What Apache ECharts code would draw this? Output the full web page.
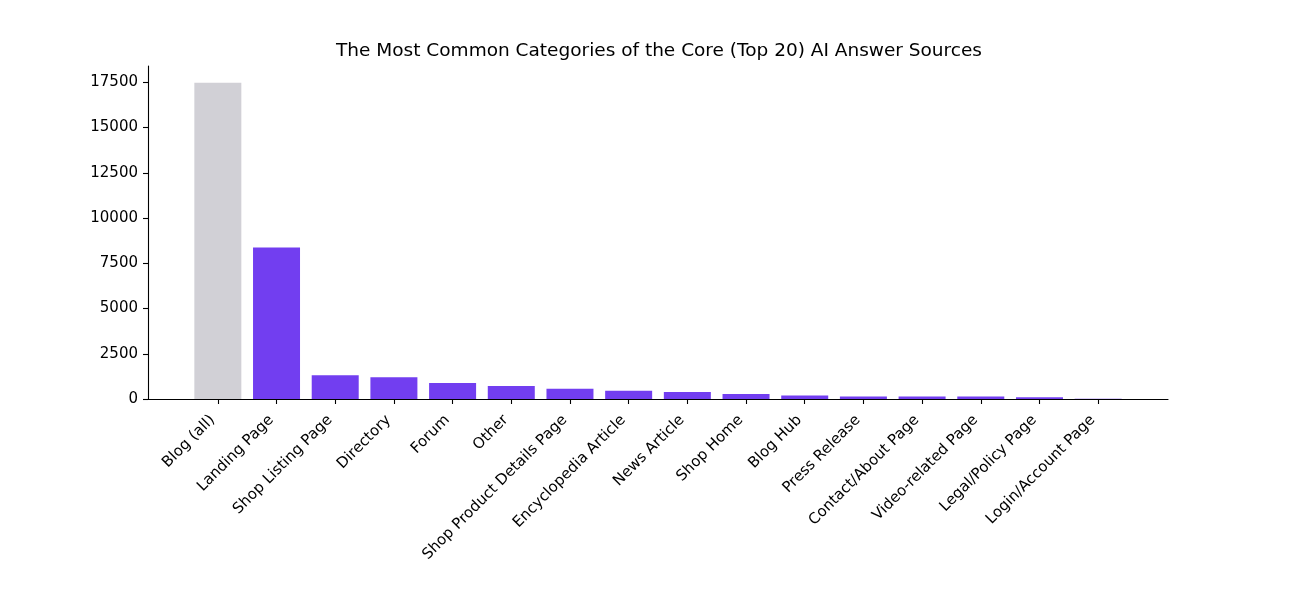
<!DOCTYPE html>
<html>
<head>
<meta charset="utf-8">
<script src="https://cdn.jsdelivr.net/npm/echarts@6/dist/echarts.min.js"></script>
<style>
  html, body { margin: 0; padding: 0; background: #fff; }
  #chart { width: 1310px; height: 614px; }
</style>
</head>
<body>
<div id="chart"></div>
<script>
// 数据
var categories = ['Blog (all)', 'Landing Page', 'Shop Listing Page', 'Directory', 'Forum', 'Other',
                  'Shop Product Details Page', 'Encyclopedia Article', 'News Article', 'Shop Home',
                  'Blog Hub', 'Press Release', 'Contact/About Page', 'Video-related Page',
                  'Legal/Policy Page', 'Login/Account Page']
var counts = [17480, 8370, 1310, 1195, 885, 720, 570, 460, 387, 277, 200, 145, 140, 140, 90, 8]
var yTicks = [0, 2500, 5000, 7500, 10000, 12500, 15000, 17500]

var greyColor = '#d1d0d6'
var purpleColor = '#723ef0'
var font = 'DejaVu Sans'

var positions = categories.map(function (c, i) { return i })

var barData = counts.map(function (v, i) {
  return {
    value: [i, v],
    itemStyle: { color: i === 0 ? greyColor : purpleColor }
  }
})

var myChart = echarts.init(document.getElementById('chart'), null, { renderer: 'canvas' })

var option = {
  animation: false,
  backgroundColor: '#fff',
  title: {
    text: 'The Most Common Categories of the Core (Top 20) AI Answer Sources',
    left: 654,
    textAlign: 'center',
    top: 37,
    textStyle: { fontFamily: font, fontSize: 18.5, fontWeight: 'normal', color: '#000' }
  },
  grid: { left: 148, right: 142, top: 66, bottom: 215, containLabel: false },
  xAxis: {
    type: 'value',
    min: -1.19,   // matplotlib 默认左右留白
    max: 16.19,
    splitLine: { show: false },
    axisLine: { show: true, onZero: false, lineStyle: { color: '#000', width: 1.1 } },
    axisTick: {
      show: true,
      customValues: positions,
      length: 5,
      lineStyle: { color: '#000', width: 1.1 }
    },
    axisLabel: {
      customValues: positions,
      rotate: 45,
      margin: 24,
      verticalAlign: 'bottom',   // 右下角对准刻度，和 matplotlib 的 ha=right 差不多
      fontFamily: font,
      fontSize: 15,
      color: '#000',
      formatter: function (v) { return categories[Math.round(v)] }
    }
  },
  yAxis: {
    type: 'value',
    min: 0,
    max: 18400,
    splitLine: { show: false },
    axisLine: { show: true, onZero: false, lineStyle: { color: '#000', width: 1.1 } },
    axisTick: {
      show: true,
      customValues: yTicks,
      length: 5,
      lineStyle: { color: '#000', width: 1.1 }
    },
    axisLabel: {
      customValues: yTicks,
      margin: 10,
      fontFamily: font,
      fontSize: 15,
      color: '#000',
      formatter: function (v) { return String(v) }
    }
  },
  series: [{
    type: 'bar',
    barWidth: 47,
    data: barData
  }]
}

myChart.setOption(option)
</script>
</body>
</html>
